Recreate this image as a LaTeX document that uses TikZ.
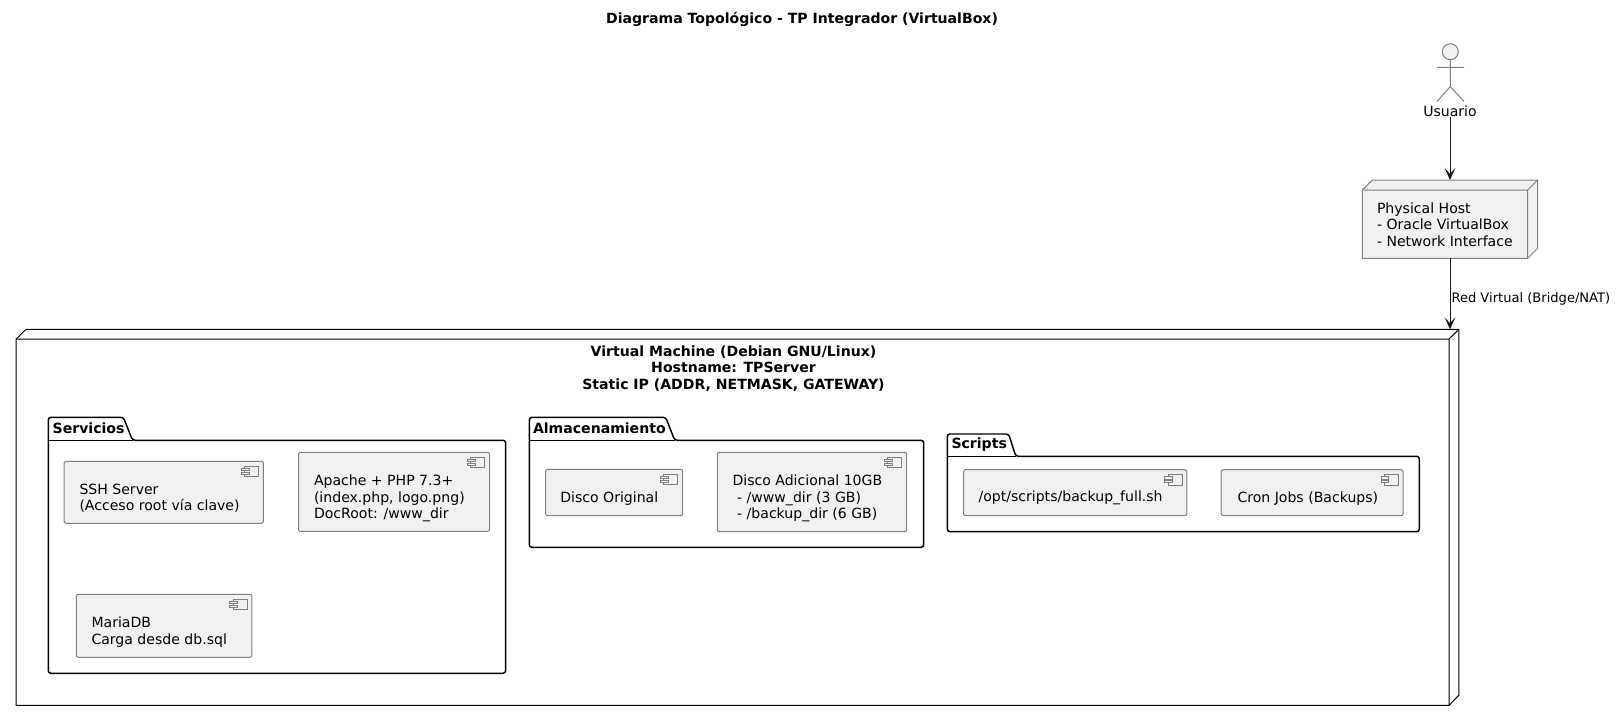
\documentclass[tikz,border=0pt]{standalone}
\usepackage{fontspec}
\setmainfont{DejaVu Sans}
\usetikzlibrary{arrows.meta}

\definecolor{boxfill}{RGB}{241,241,241}
\definecolor{boxline}{RGB}{128,128,128}
\definecolor{darkline}{RGB}{24,24,24}

\tikzset{every picture/.style={line width=0.75pt}}
\tikzset{
txt/.style={inner sep=0pt, anchor=west, align=left, font=\fontsize{10.55}{12.3}\selectfont},
boldtxt/.style={txt, font=\fontsize{10.55}{12.3}\selectfont\bfseries},
ghost/.style={inner sep=0pt, outer sep=0pt},
compbox/.style={draw=boxline, fill=boxfill, rounded corners=1.5pt},
pkgbox/.style={draw=black, line width=1.1pt, rounded corners=2pt},
flow/.style={draw=darkline, -{Stealth[length=9pt,width=8pt,inset=4.5pt]}},
compicon/.pic={
\draw [draw=boxline, fill=boxfill] (-14,-4.7) rectangle (0,-15.4);
\draw [draw=boxline, fill=boxfill] (-17.2,-7) rectangle (-9.6,-9.4);
\draw [draw=boxline, fill=boxfill] (-17.2,-10.7) rectangle (-9.6,-13);
}
}

\begin{document}
\begin{tikzpicture}[x=0.75pt,y=0.75pt,yscale=-1,xscale=1]
\useasboundingbox (0,0) rectangle (1617,721);

% Text Node
\node (title) [boldtxt, anchor=center] at (802,19) {Diagrama Topológico - TP Integrador (VirtualBox)};

%Shape: Actor
\draw [draw=boxline, fill=boxfill] (1450.3,51.7) circle [radius=8];
\draw [draw=boxline] (1450.3,59.7) -- (1450.3,86.5) (1437,67.3) -- (1464,67.3) (1437,101.5) -- (1450.3,86.5) -- (1464,101.5);
\node (usuario) [txt, anchor=center] at (1450,111) {Usuario};

%Shape: Physical host
\node (host) [ghost, minimum width=131.55pt, minimum height=58.7pt] at (1450,219.15) {};
\draw [draw=boxline, fill=boxfill] (1362.3,190) -- (1372.3,180) -- (1537.7,180) -- (1537.7,248.3) -- (1527.7,258.3) -- (1362.3,258.3) -- cycle;
\draw [draw=boxline] (1362.3,190) -- (1527.7,190) -- (1527.7,258.3) (1527.7,190) -- (1537.7,180);
\node (hostlabel) [txt] at (1376.5,224.5) {Physical Host\\- Oracle VirtualBox\\- Network Interface};

%Shape: Virtual machine
\node (vm) [ghost, minimum width=1082.25pt, minimum height=282pt] at (737.5,517.3) {};
\draw [draw=black] (16.2,339) -- (26,329.3) -- (1458.8,329.3) -- (1458.8,695.3) -- (1449,705.3) -- (16.2,705.3) -- cycle;
\draw [draw=black] (16.2,339) -- (1449,339) -- (1449,705.3) (1449,339) -- (1458.8,329.3);
\node (vmlabel) [boldtxt, anchor=center, align=center] at (733.5,368.5) {Virtual Machine (Debian GNU/Linux)\\Hostname: TPServer\\Static IP (ADDR, NETMASK, GATEWAY)};

%Straight Lines
\draw [flow] (usuario.south) -- (host.north);
\draw [flow] (host.south) -- (host.south |- vm.north);
\node (redlabel) [txt, font=\fontsize{9.8}{12}\selectfont] at (1451,298.5) {Red Virtual (Bridge/NAT)};

%Shape: Package Servicios
\draw [pkgbox] (48.3,673.3) -- (48.3,417.3) -- (123.4,417.3) -- (132.5,440.3) -- (505.7,440.3) -- (505.7,673.3) -- cycle;
\draw [pkgbox] (48.3,440.3) -- (132.5,440.3);
\node (servicios) [boldtxt] at (52.2,428.3) {Servicios};

%Shape: Package Almacenamiento
\draw [pkgbox] (529.3,547.3) -- (529.3,417.3) -- (665.7,417.3) -- (674.7,440.3) -- (923.7,440.3) -- (923.7,547.3) -- cycle;
\draw [pkgbox] (529.3,440.3) -- (674.7,440.3);
\node (almacenamiento) [boldtxt] at (532.5,428.3) {Almacenamiento};

%Shape: Package Scripts
\draw [pkgbox] (947.3,531.7) -- (947.3,434) -- (1008.6,434) -- (1015.8,456.3) -- (1419.3,456.3) -- (1419.3,531.7) -- cycle;
\draw [pkgbox] (947.3,456.3) -- (1015.8,456.3);
\node (scripts) [boldtxt] at (951,444.3) {Scripts};

%Shape: Components
\draw [compbox] (64.2,461.3) rectangle (263.4,523.3);
\draw (263.4,461.3) ++(-4.8,0) pic {compicon};
\node (ssh) [txt] at (79,498) {SSH Server\\(Acceso root vía clave)};

\draw [compbox] (298.5,452.3) rectangle (489.5,531.3);
\draw (489.5,452.3) ++(-4.8,0) pic {compicon};
\node (apache) [txt] at (313.5,498.5) {Apache + PHP 7.3+\\(index.php, logo.png)\\DocRoot: /www\_dir};

\draw [compbox] (76.4,594.3) rectangle (251.9,657.3);
\draw (251.9,594.3) ++(-4.8,0) pic {compicon};
\node (mariadb) [txt] at (91,632) {MariaDB\\Carga desde db.sql};

\draw [compbox] (545.7,469.3) rectangle (682.7,515.7);
\draw (682.7,469.3) ++(-4.8,0) pic {compicon};
\node (discoa) [txt] at (559.8,498.3) {Disco Original};

\draw [compbox] (717.3,452.3) rectangle (906.7,531.7);
\draw (906.7,452.3) ++(-4.8,0) pic {compicon};
\node (discob) [txt] at (732,498.5) {Disco Adicional 10GB\\\hspace*{3.5pt}- /www\_dir (3 GB)\\\hspace*{3.5pt}- /backup\_dir (6 GB)};

\draw [compbox] (963.6,469.7) rectangle (1186.8,515.7);
\draw (1186.8,469.7) ++(-4.8,0) pic {compicon};
\node (backup) [txt] at (978,498.3) {/opt/scripts/backup\_full.sh};

\draw [compbox] (1221.2,469.7) rectangle (1403,515.7);
\draw (1403,469.7) ++(-4.8,0) pic {compicon};
\node (cron) [txt] at (1237,498.3) {Cron Jobs (Backups)};

\end{tikzpicture}
\end{document}
